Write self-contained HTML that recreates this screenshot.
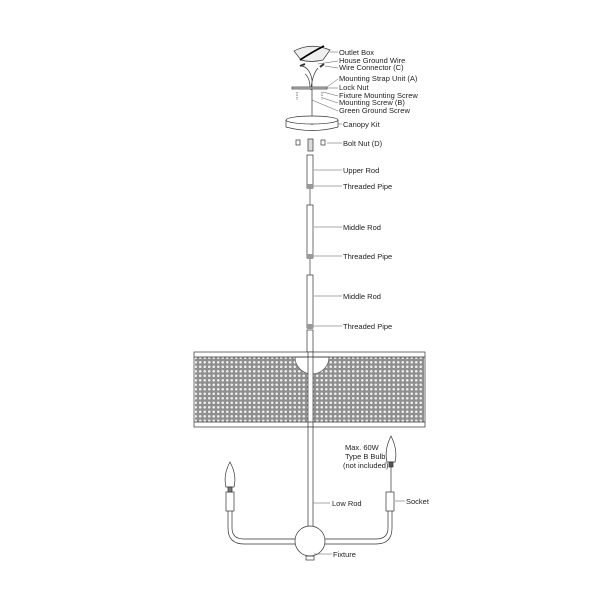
<!DOCTYPE html>
<html><head><style>body{margin:0;background:#fff}svg{display:block}text{font-family:"Liberation Sans",sans-serif;font-size:7.5px;fill:#222}</style></head><body>
<svg width="600" height="600" viewBox="0 0 600 600" xmlns="http://www.w3.org/2000/svg">
<defs>
<pattern id="mesh" width="4.5" height="4.5" patternUnits="userSpaceOnUse">
<rect width="4.5" height="4.5" fill="#8f8f8f"/><circle cx="2.25" cy="2.25" r="1.3" fill="#eee"/>
</pattern>
</defs>
<g stroke="#333" stroke-width="0.7" fill="none">
<path d="M294 51 Q311 42 330 50 L323 60 Q311 63 301 60 Z" fill="#eee"/>
<path d="M300 60 Q312 52 324 46" stroke="#000" stroke-width="1.8"/>
<path d="M302 66 Q310 68 312 80 L312 125 M318 68 Q312 75 311 90 M305 74 Q310 78 310 88"/>
<line x1="300" y1="66" x2="305" y2="64" stroke-width="2"/><line x1="320" y1="67" x2="324" y2="64" stroke-width="2"/>
<rect x="292" y="87" width="35" height="2" fill="#ccc"/>
<line x1="297" y1="92" x2="297" y2="100" stroke-dasharray="1.5 1"/><line x1="322" y1="92" x2="322" y2="100" stroke-dasharray="1.5 1"/>
<ellipse cx="312" cy="120" rx="26" ry="4" fill="#fff"/>
<path d="M286 120 L286 127 Q312 134 338 127 L338 120"/>
<rect x="296" y="140" width="4" height="5"/><rect x="321" y="140" width="4" height="5"/>
<rect x="308" y="139" width="5" height="12" fill="#ddd"/>
<rect x="307" y="155" width="6" height="33" fill="#fff"/><rect x="307" y="184" width="6" height="5" fill="#999" stroke="none"/>
<line x1="310" y1="189" x2="310" y2="205" stroke="#bbb" stroke-width="2"/>
<rect x="307" y="205" width="6" height="53" fill="#fff"/><rect x="307" y="254" width="6" height="5" fill="#999" stroke="none"/>
<line x1="310" y1="259" x2="310" y2="275" stroke="#bbb" stroke-width="2"/>
<rect x="307" y="275" width="6" height="53" fill="#fff"/><rect x="307" y="324" width="6" height="5" fill="#999" stroke="none"/>
<rect x="307" y="330" width="6" height="22" fill="#fff"/>
<rect x="194" y="352" width="231" height="75" fill="#fff"/>
<rect x="195" y="357" width="229" height="65" fill="url(#mesh)" stroke="none"/>
<path d="M295 357 A17 17 0 0 0 329 357 Z" fill="#fff" stroke="#555"/>
<rect x="308" y="357" width="5" height="65" fill="#fff" stroke="none"/>
<line x1="308" y1="352" x2="308" y2="427"/><line x1="313" y1="352" x2="313" y2="427"/>
<line x1="194" y1="357" x2="425" y2="357"/><line x1="194" y1="422" x2="425" y2="422"/>
<rect x="308" y="427" width="5" height="100" fill="#fff"/>
<path d="M228 510 L228 528 Q228 544 244 544 L296 544 M232 510 L232 528 Q232 539 244 539 L296 539"/>
<path d="M392 510 L392 528 Q392 544 376 544 L324 544 M388 510 L388 528 Q388 539 376 539 L324 539"/>
<circle cx="310" cy="541" r="15" fill="#fff"/>
<rect x="306" y="556" width="8" height="4"/>
<rect x="226" y="492" width="8" height="19" fill="#fff"/><rect x="386" y="492" width="8" height="19" fill="#fff"/>
<path d="M230 462 Q223 475 226 487 L234 487 Q237 475 230 462 Z" fill="#fff"/><rect x="228" y="487" width="4" height="5" fill="#777"/>
<path d="M391 436 Q384 450 387 462 L395 462 Q398 450 391 436 Z" fill="#fff"/><rect x="389" y="462" width="4" height="5" fill="#555"/>
<line x1="391" y1="467" x2="391" y2="492"/>
<g stroke="#555" stroke-width="0.5">
<line x1="330" y1="52" x2="338" y2="52"/><line x1="318" y1="64" x2="338" y2="61"/><line x1="325" y1="66" x2="338" y2="68"/>
<line x1="327" y1="87" x2="338" y2="79"/><line x1="327" y1="88" x2="338" y2="88"/><line x1="323" y1="92" x2="338" y2="96"/>
<line x1="323" y1="98" x2="338" y2="103"/><line x1="312" y1="100" x2="338" y2="111"/><line x1="338" y1="124" x2="342" y2="124"/>
<line x1="327" y1="143" x2="342" y2="143"/>
<line x1="314" y1="170" x2="342" y2="170"/><line x1="314" y1="186" x2="342" y2="186"/>
<line x1="314" y1="227" x2="342" y2="227"/><line x1="314" y1="256" x2="342" y2="256"/>
<line x1="314" y1="296" x2="342" y2="296"/><line x1="314" y1="326" x2="342" y2="326"/>
<line x1="313" y1="503" x2="330" y2="503"/><line x1="395" y1="501" x2="405" y2="501"/><line x1="314" y1="554" x2="332" y2="554"/>
</g>
</g>
<text x="339" y="55">Outlet Box</text>
<text x="339" y="63">House Ground Wire</text>
<text x="339" y="70">Wire Connector (C)</text>
<text x="339" y="81">Mounting Strap Unit (A)</text>
<text x="339" y="90">Lock Nut</text>
<text x="339" y="98">Fixture Mounting Screw</text>
<text x="339" y="105">Mounting Screw (B)</text>
<text x="339" y="113">Green Ground Screw</text>
<text x="343" y="127">Canopy Kit</text>
<text x="343" y="146">Bolt Nut (D)</text>
<text x="343" y="173">Upper Rod</text>
<text x="343" y="189">Threaded Pipe</text>
<text x="343" y="230">Middle Rod</text>
<text x="343" y="259">Threaded Pipe</text>
<text x="343" y="299">Middle Rod</text>
<text x="343" y="329">Threaded Pipe</text>
<text x="345" y="450">Max. 60W</text>
<text x="345" y="459">Type B Bulb</text>
<text x="343" y="468">(not included)</text>
<text x="332" y="506">Low Rod</text>
<text x="406" y="504">Socket</text>
<text x="333" y="557">Fixture</text>
</svg>
</body></html>
